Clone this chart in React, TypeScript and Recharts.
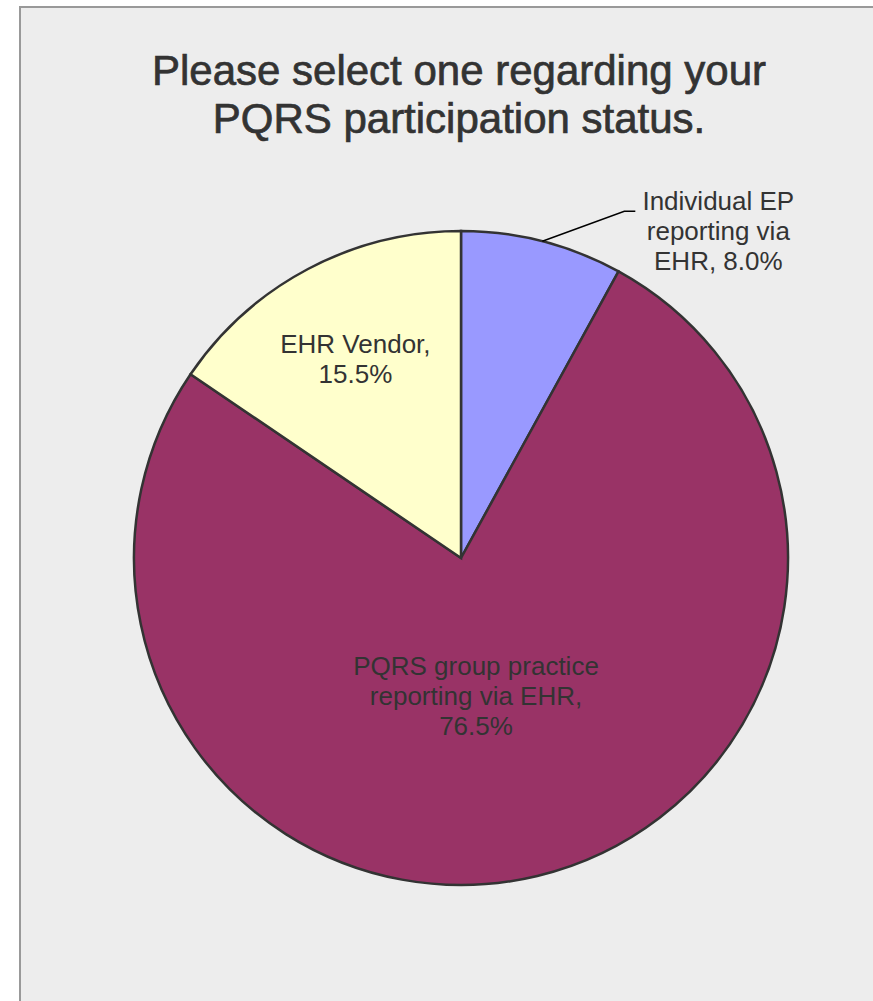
import { PieChart, Pie, Cell } from "recharts";

const categories = [
  "Individual EP reporting via EHR",
  "PQRS group practice reporting via EHR",
  "EHR Vendor",
];
const shares = [8.0, 76.5, 15.5];
const sliceColors = ["#9999ff", "#993366", "#ffffcc"];
const titleLines = ["Please select one regarding your", "PQRS participation status."];

const chartData = categories.map((name, i) => ({ name, value: shares[i] }));

// how each data label sits; r is a fraction of the radius
const LABEL_LAYOUT = [
  { outside: true, r: 1, shift: 0, wrap: 13 },
  { outside: false, r: 0.425, shift: -7.3, wrap: 19 },
  { outside: false, r: 0.69, shift: 0, wrap: 11 },
];

const FONT = "'Liberation Sans', Arial, sans-serif";
const LABEL_SIZE = 26;
const LINE_H = 30;
const RAD = Math.PI / 180;

const wrapText = (text: string, max: number) => {
  const out: string[] = [];
  let cur = "";
  text.split(" ").forEach((w) => {
    const next = cur ? cur + " " + w : w;
    if (next.length > max && cur) {
      out.push(cur);
      cur = w;
    } else {
      cur = next;
    }
  });
  if (cur) out.push(cur);
  return out;
};

const renderLabel = (props: any) => {
  const { cx, cy, midAngle, outerRadius, index, name, value } = props;
  const layout = LABEL_LAYOUT[index];
  const lines = wrapText(`${name}, ${Number(value).toFixed(1)}%`, layout.wrap);

  if (layout.outside) {
    const sx = cx + outerRadius * Math.cos(-midAngle * RAD);
    const sy = cy + outerRadius * Math.sin(-midAngle * RAD);
    const ex = sx + 82;
    const ey = sy - 30;
    const tx = ex + 11;
    return (
      <g>
        <polyline
          points={`${sx},${sy} ${ex},${ey} ${tx},${ey}`}
          fill="none"
          stroke="#000"
          strokeWidth={1.5}
        />
        <text x={tx + 83} y={ey - 1} textAnchor="middle" fill="#333" fontFamily={FONT} fontSize={LABEL_SIZE}>
          {lines.map((l, i) => (
            <tspan key={i} x={tx + 83} dy={i === 0 ? 0 : LINE_H}>
              {l}
            </tspan>
          ))}
        </text>
      </g>
    );
  }

  const ang = (midAngle + layout.shift) * RAD;
  const r = outerRadius * layout.r;
  const x = cx + r * Math.cos(-ang);
  const y = cy + r * Math.sin(-ang);
  const firstBase = y - ((lines.length - 1) / 2) * LINE_H + 9;
  return (
    <text x={x} y={firstBase} textAnchor="middle" fill="#333" fontFamily={FONT} fontSize={LABEL_SIZE}>
      {lines.map((l, i) => (
        <tspan key={i} x={x} dy={i === 0 ? 0 : LINE_H}>
          {l}
        </tspan>
      ))}
    </text>
  );
};

export default function App() {
  return (
    <div style={{ position: "absolute", left: 0, top: 0, width: 873, height: 1001, overflow: "hidden" }}>
      <div
        style={{
          position: "absolute",
          left: 19,
          top: 6,
          width: 854,
          height: 995,
          background: "#ededed",
          borderTop: "2px solid #999",
          borderLeft: "2px solid #999",
          boxSizing: "border-box",
        }}
      />
      <div
        style={{
          position: "absolute",
          left: 59,
          top: 47,
          width: 800,
          textAlign: "center",
          fontFamily: FONT,
          fontSize: 42,
          lineHeight: "48px",
          color: "#333",
          WebkitTextStroke: "0.7px #333",
        }}
      >
        {titleLines.map((t) => (
          <div key={t}>{t}</div>
        ))}
      </div>
      <div style={{ position: "absolute", left: 0, top: 0 }}>
        <PieChart width={873} height={1001} margin={{ top: 0, right: 0, bottom: 0, left: 0 }}>
          <Pie
            data={chartData}
            dataKey="value"
            nameKey="name"
            cx={461}
            cy={558}
            outerRadius={327}
            startAngle={90}
            endAngle={-270}
            stroke="#333"
            strokeWidth={2.5}
            label={renderLabel}
            labelLine={false}
            isAnimationActive={false}
          >
            {chartData.map((d, i) => (
              <Cell key={d.name} fill={sliceColors[i]} />
            ))}
          </Pie>
        </PieChart>
      </div>
    </div>
  );
}
